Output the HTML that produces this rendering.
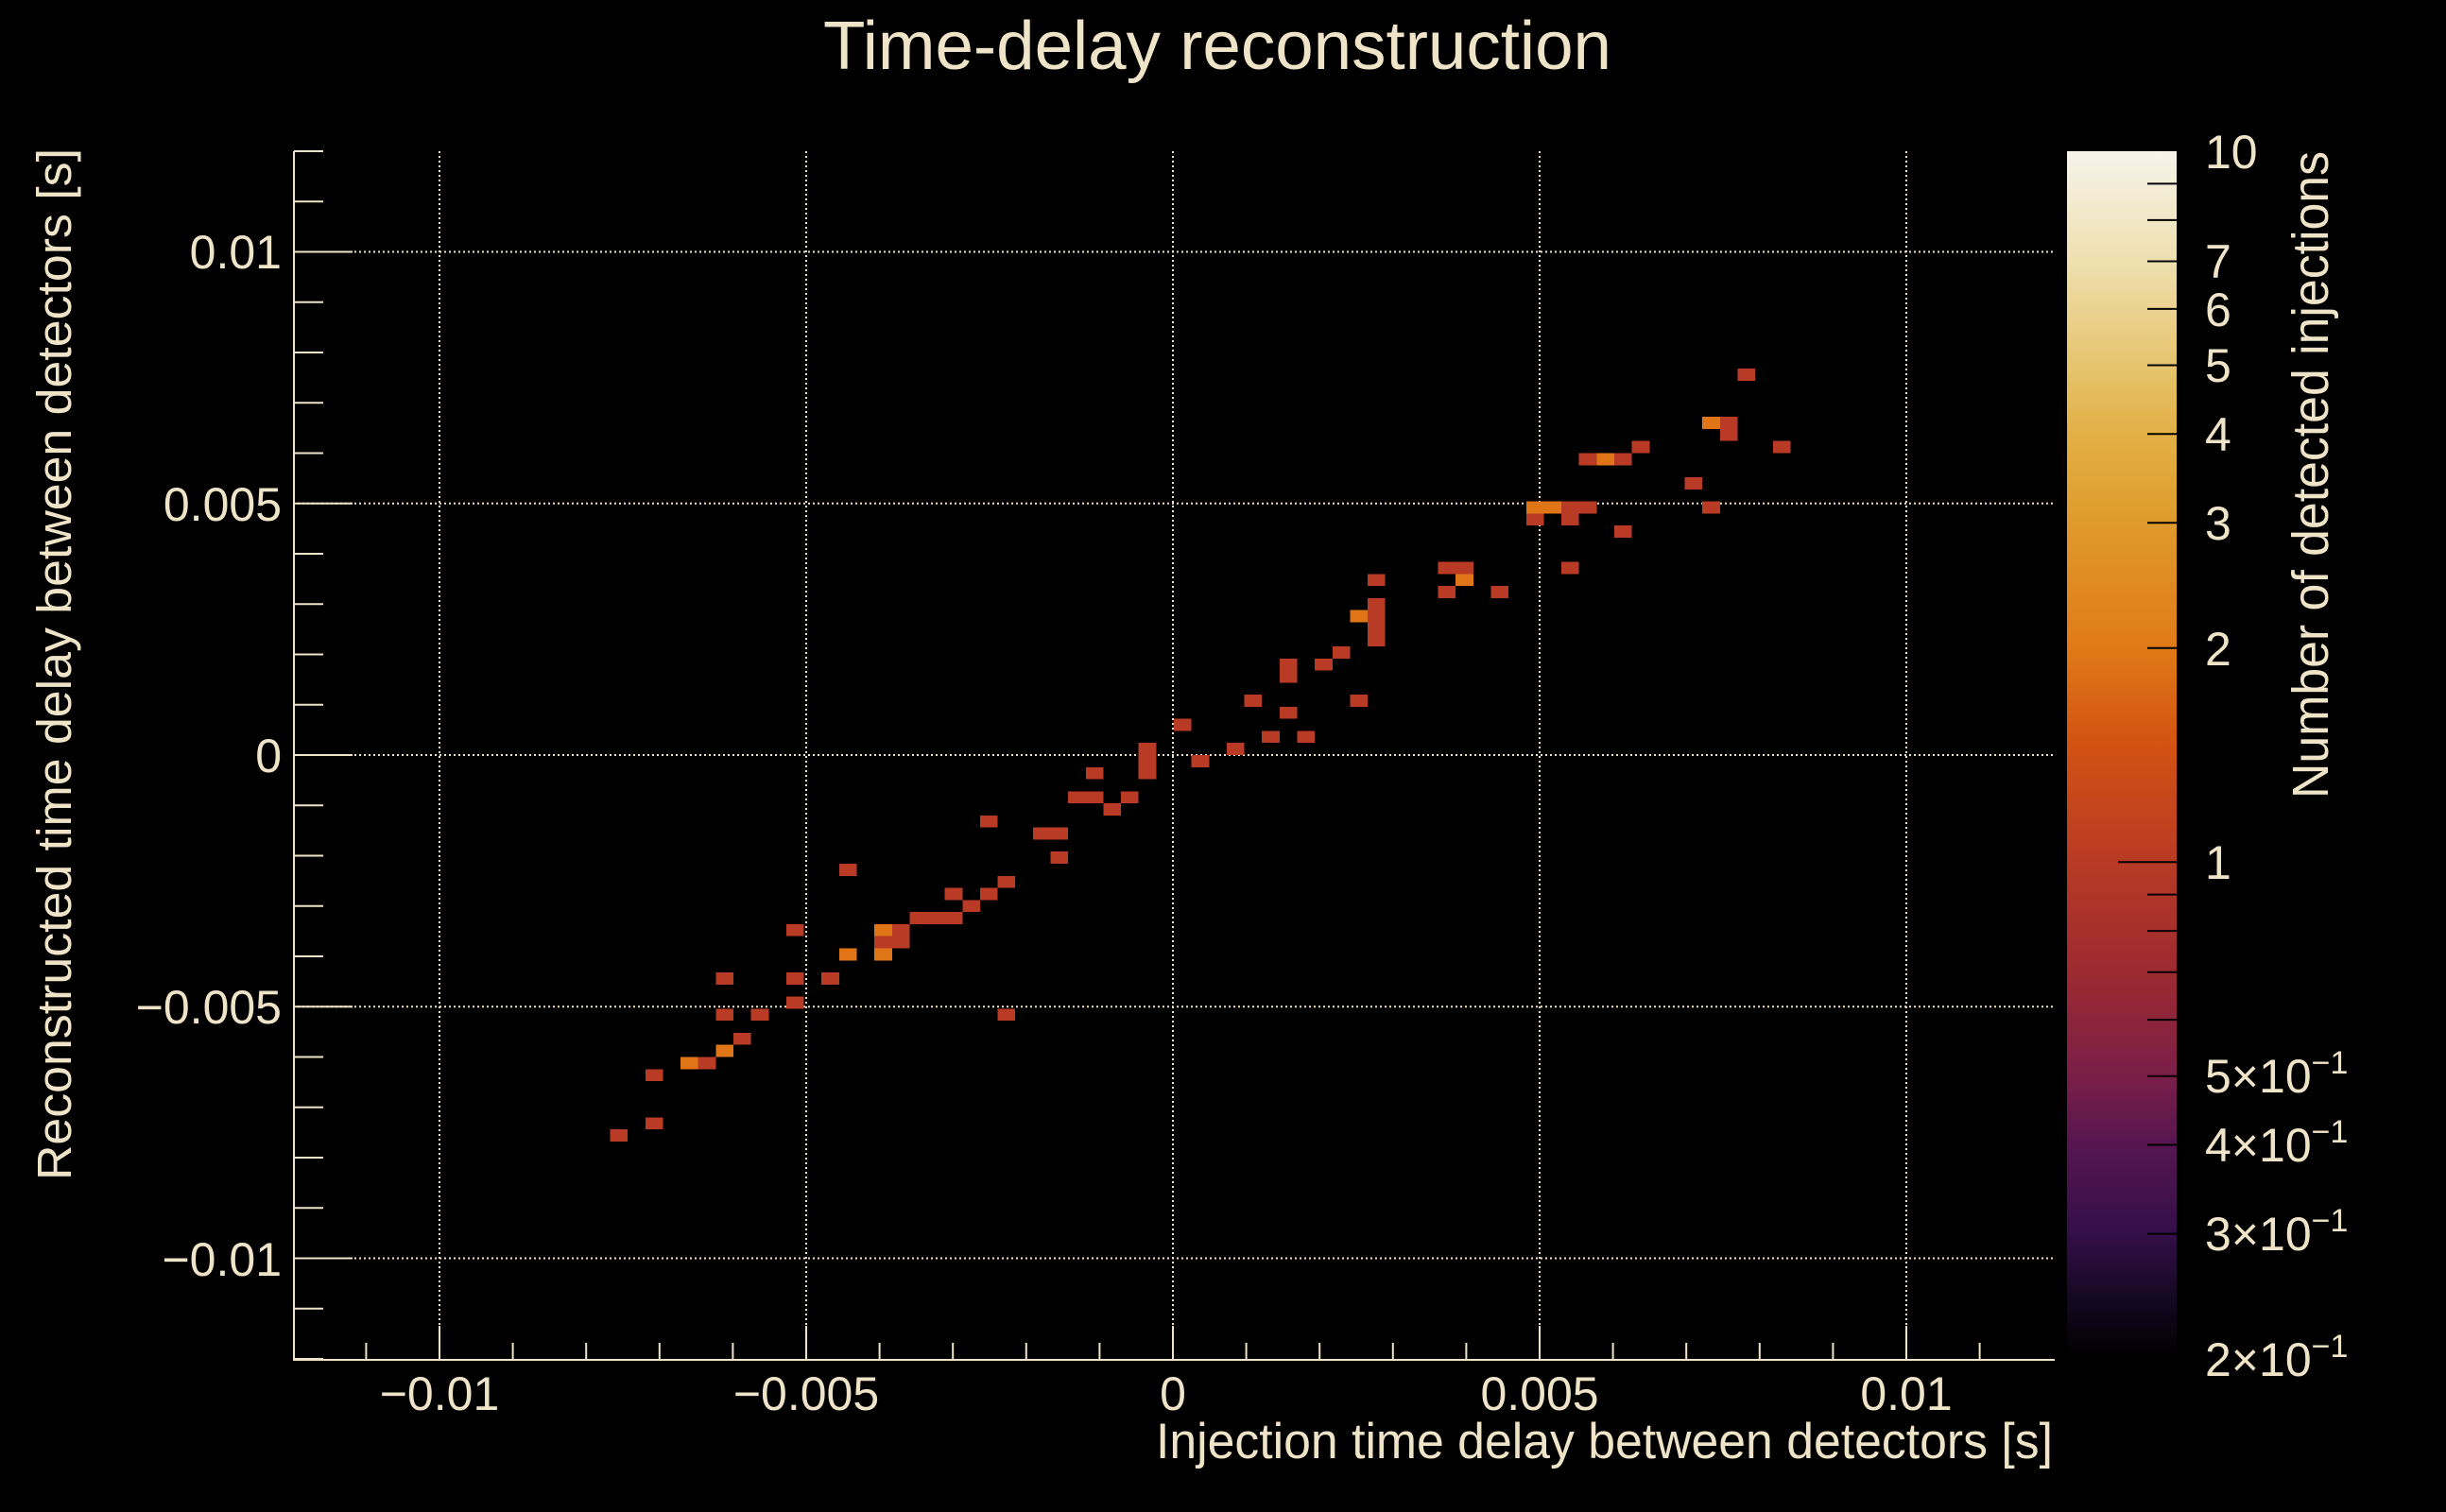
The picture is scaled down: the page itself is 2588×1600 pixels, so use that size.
<!DOCTYPE html>
<html><head><meta charset="utf-8"><style>
html,body{margin:0;padding:0;background:#000;}
svg{display:block;}
text{font-family:"Liberation Sans",sans-serif;fill:#efe4c8;}
</style></head><body>
<svg width="2588" height="1600" viewBox="0 0 2588 1600" xmlns="http://www.w3.org/2000/svg">
<defs>
<linearGradient id="cb" x1="0" y1="0" x2="0" y2="1">
<stop offset="0" stop-color="#f6f3ea"/>
<stop offset="0.09" stop-color="#efe0b0"/>
<stop offset="0.177" stop-color="#e6c46e"/>
<stop offset="0.234" stop-color="#e3b045"/>
<stop offset="0.308" stop-color="#df9a2c"/>
<stop offset="0.411" stop-color="#e07a18"/>
<stop offset="0.49" stop-color="#d45212"/>
<stop offset="0.589" stop-color="#b83a25"/>
<stop offset="0.68" stop-color="#9c2a30"/>
<stop offset="0.766" stop-color="#7a1f48"/>
<stop offset="0.823" stop-color="#561650"/>
<stop offset="0.896" stop-color="#340f48"/>
<stop offset="0.95" stop-color="#150822"/>
<stop offset="1" stop-color="#000000"/>
</linearGradient>
</defs>
<rect width="2588" height="1600" fill="#000"/>

<!-- grid -->
<g stroke="#efe4c8" stroke-width="2" stroke-dasharray="2 3" fill="none">
<line x1="465" y1="160" x2="465" y2="1438"/>
<line x1="853" y1="160" x2="853" y2="1438"/>
<line x1="1241" y1="160" x2="1241" y2="1438"/>
<line x1="1629" y1="160" x2="1629" y2="1438"/>
<line x1="2017" y1="160" x2="2017" y2="1438"/>
<line x1="310" y1="266.5" x2="2174" y2="266.5"/>
<line x1="310" y1="532.75" x2="2174" y2="532.75"/>
<line x1="310" y1="799" x2="2174" y2="799"/>
<line x1="310" y1="1065.25" x2="2174" y2="1065.25"/>
<line x1="310" y1="1331.5" x2="2174" y2="1331.5"/>
</g>

<!-- cells -->
<g transform="translate(310,160) scale(18.64,12.78)" shape-rendering="crispEdges">
<g fill="#b93a25">
<rect x="82" y="18" width="1" height="1"/><rect x="81" y="22" width="1" height="2"/>
<rect x="84" y="24" width="1" height="1"/><rect x="76" y="24" width="1" height="1"/>
<rect x="73" y="25" width="1" height="1"/><rect x="75" y="25" width="1" height="1"/>
<rect x="79" y="27" width="1" height="1"/><rect x="72" y="29" width="2" height="1"/>
<rect x="70" y="30" width="1" height="1"/><rect x="72" y="30" width="1" height="1"/>
<rect x="80" y="29" width="1" height="1"/><rect x="75" y="31" width="1" height="1"/>
<rect x="65" y="34" width="2" height="1"/><rect x="72" y="34" width="1" height="1"/>
<rect x="65" y="36" width="1" height="1"/><rect x="68" y="36" width="1" height="1"/>
<rect x="61" y="35" width="1" height="1"/><rect x="61" y="37" width="1" height="4"/>
<rect x="59" y="41" width="1" height="1"/><rect x="58" y="42" width="1" height="1"/>
<rect x="56" y="42" width="1" height="2"/><rect x="54" y="45" width="1" height="1"/>
<rect x="60" y="45" width="1" height="1"/><rect x="56" y="46" width="1" height="1"/>
<rect x="50" y="47" width="1" height="1"/><rect x="55" y="48" width="1" height="1"/>
<rect x="57" y="48" width="1" height="1"/><rect x="53" y="49" width="1" height="1"/>
<rect x="51" y="50" width="1" height="1"/><rect x="48" y="49" width="1" height="3"/>
<rect x="45" y="51" width="1" height="1"/><rect x="44" y="53" width="2" height="1"/>
<rect x="47" y="53" width="1" height="1"/><rect x="46" y="54" width="1" height="1"/>
<rect x="42" y="56" width="2" height="1"/><rect x="43" y="58" width="1" height="1"/>
<rect x="39" y="55" width="1" height="1"/><rect x="31" y="59" width="1" height="1"/>
<rect x="40" y="60" width="1" height="1"/><rect x="37" y="61" width="1" height="1"/>
<rect x="39" y="61" width="1" height="1"/><rect x="38" y="62" width="1" height="1"/>
<rect x="35" y="63" width="3" height="1"/><rect x="34" y="64" width="1" height="1"/>
<rect x="33" y="65" width="2" height="1"/><rect x="28" y="64" width="1" height="1"/>
<rect x="24" y="68" width="1" height="1"/><rect x="28" y="68" width="1" height="1"/>
<rect x="30" y="68" width="1" height="1"/><rect x="28" y="70" width="1" height="1"/>
<rect x="24" y="71" width="1" height="1"/><rect x="26" y="71" width="1" height="1"/>
<rect x="40" y="71" width="1" height="1"/><rect x="25" y="73" width="1" height="1"/>
<rect x="23" y="75" width="1" height="1"/><rect x="20" y="76" width="1" height="1"/>
<rect x="20" y="80" width="1" height="1"/><rect x="18" y="81" width="1" height="1"/>
</g>
<g fill="#e07518">
<rect x="80" y="22" width="1" height="1"/><rect x="74" y="25" width="1" height="1"/>
<rect x="70" y="29" width="2" height="1"/><rect x="66" y="35" width="1" height="1"/>
<rect x="60" y="38" width="1" height="1"/><rect x="33" y="64" width="1" height="1"/>
<rect x="31" y="66" width="1" height="1"/><rect x="33" y="66" width="1" height="1"/>
<rect x="24" y="74" width="1" height="1"/><rect x="22" y="75" width="1" height="1"/>
</g>
</g>

<!-- axes -->
<g stroke="#efe4c8" stroke-width="2" fill="none">
<line x1="311" y1="160" x2="311" y2="1439"/>
<line x1="310" y1="1439" x2="2174" y2="1439"/>
<!-- y ticks -->
<path d="M311 160h31M311 213.25h31M311 266.5h62M311 319.75h31M311 373h31M311 426.25h31M311 479.5h31M311 532.75h62M311 586h31M311 639.25h31M311 692.5h31M311 745.75h31M311 799h62M311 852.25h31M311 905.5h31M311 958.75h31M311 1012h31M311 1065.25h62M311 1118.5h31M311 1171.75h31M311 1225h31M311 1278.25h31M311 1331.5h62M311 1384.75h31M311 1438h31"/>
<!-- x ticks -->
<path d="M387.4 1439v-18M465 1439v-36M542.6 1439v-18M620.2 1439v-18M697.8 1439v-18M775.4 1439v-18M853 1439v-36M930.6 1439v-18M1008.2 1439v-18M1085.8 1439v-18M1163.4 1439v-18M1241 1439v-36M1318.6 1439v-18M1396.2 1439v-18M1473.8 1439v-18M1551.4 1439v-18M1629 1439v-36M1706.6 1439v-18M1784.2 1439v-18M1861.8 1439v-18M1939.4 1439v-18M2017 1439v-36M2094.6 1439v-18"/>
</g>

<!-- tick labels -->
<g font-size="50" text-anchor="end">
<text x="298" y="284">0.01</text>
<text x="298" y="551">0.005</text>
<text x="298" y="817">0</text>
<text x="298" y="1083">−0.005</text>
<text x="298" y="1350">−0.01</text>
</g>
<g font-size="50" text-anchor="middle">
<text x="465" y="1492">−0.01</text>
<text x="853" y="1492">−0.005</text>
<text x="1241" y="1492">0</text>
<text x="1629" y="1492">0.005</text>
<text x="2017" y="1492">0.01</text>
</g>

<!-- titles -->
<text x="1288" y="73" font-size="72" text-anchor="middle" textLength="834" lengthAdjust="spacingAndGlyphs">Time-delay reconstruction</text>
<text x="2172" y="1543" font-size="53" text-anchor="end" textLength="949" lengthAdjust="spacingAndGlyphs">Injection time delay between detectors [s]</text>
<text transform="translate(75,1249) rotate(-90)" font-size="51" textLength="1092" lengthAdjust="spacingAndGlyphs">Reconstructed time delay between detectors [s]</text>
<text transform="translate(2463,845) rotate(-90)" font-size="54" textLength="685" lengthAdjust="spacingAndGlyphs">Number of detected injections</text>

<!-- colorbar -->
<rect x="2187" y="160" width="116" height="1278" fill="url(#cb)"/>
<g stroke="#000" stroke-width="2">
<path d="M2272 194.4h31M2272 232.9h31M2272 276.5h31M2272 326.9h31M2272 386.5h31M2272 459.3h31M2272 553.3h31M2272 685.8h31M2241 912.2h62M2272 946.6h31M2272 985.1h31M2272 1028.7h31M2272 1079.1h31M2272 1138.7h31M2272 1211.5h31M2272 1305.6h31"/>
</g>
<g font-size="50">
<text x="2333" y="178">10</text>
<text x="2333" y="294">7</text>
<text x="2333" y="345">6</text>
<text x="2333" y="404">5</text>
<text x="2333" y="477">4</text>
<text x="2333" y="571">3</text>
<text x="2333" y="704">2</text>
<text x="2333" y="930">1</text>
<text x="2333" y="1156">5×10<tspan font-size="34" dy="-20">−1</tspan></text>
<text x="2333" y="1229">4×10<tspan font-size="34" dy="-20">−1</tspan></text>
<text x="2333" y="1323">3×10<tspan font-size="34" dy="-20">−1</tspan></text>
<text x="2333" y="1456">2×10<tspan font-size="34" dy="-20">−1</tspan></text>
</g>
</svg>
</body></html>
